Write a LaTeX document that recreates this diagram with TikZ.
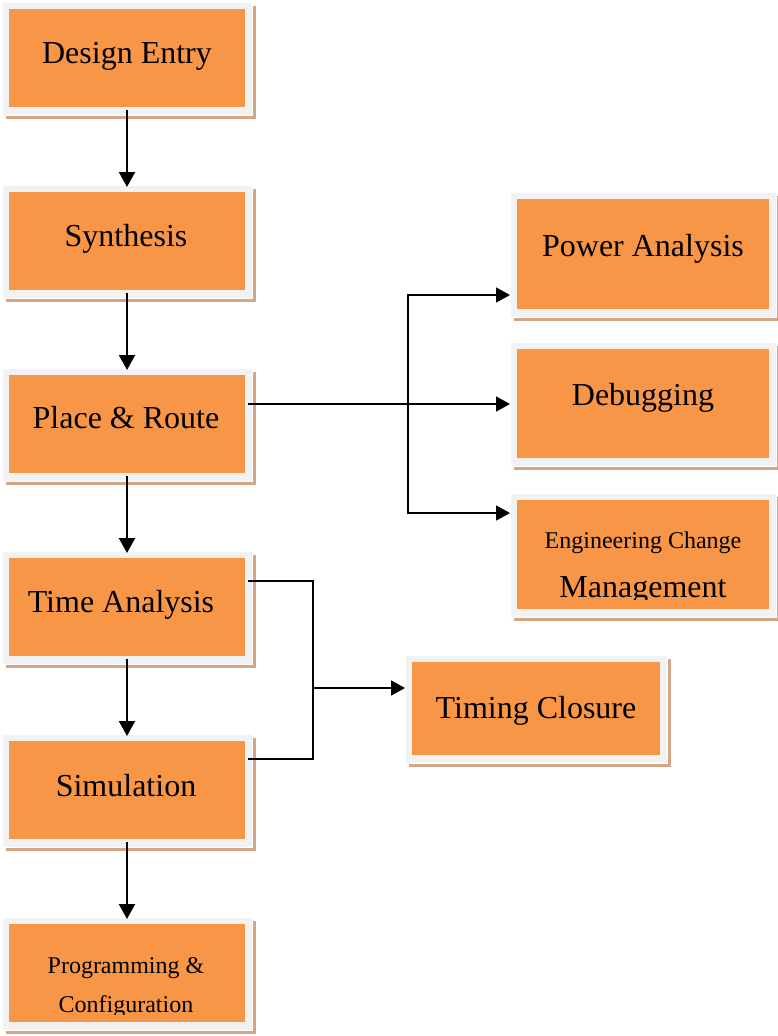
\documentclass[tikz,border=0pt]{standalone}
\usepackage{fontspec}
\setmainfont{Liberation Serif}
\usetikzlibrary{arrows.meta,shadows}
\definecolor{boxorange}{HTML}{F79646}
\definecolor{boxframe}{HTML}{F2F2F2}
\definecolor{boxshadow}{HTML}{D4A686}

\tikzset{
  flowbox/.style={rectangle, inner sep=0pt, outer sep=0pt,
    fill=boxframe, draw=white, line width=0.8pt,
    general shadow={fill=boxshadow, shadow xshift=4pt, shadow yshift=-4pt},
    path picture={\fill[boxorange]
      ([shift={(7pt,8pt)}]path picture bounding box.south west) rectangle
      ([shift={(-7pt,-7pt)}]path picture bounding box.north east);}},
  bigtext/.style={font=\fontsize{32}{38}\selectfont, inner sep=0pt, anchor=base},
  smalltext/.style={font=\fontsize{24}{29}\selectfont, inner sep=0pt, anchor=base},
  link/.style={line width=1.8pt, black},
  arr/.style={link, -{Triangle[length=14pt,width=15pt]}},
  downarr/.style={line width=2.2pt, black, -{Triangle[length=15pt,width=16pt]}, shorten >=-2pt},
}

\begin{document}
\begin{tikzpicture}[x=1pt, y=-1pt]
\useasboundingbox (0,0) rectangle (778,1036);

% main flow column
\node[flowbox, minimum width=250pt, minimum height=113pt] (de)   at (127,58.5)  {};
\node[flowbox, minimum width=250pt, minimum height=113pt] (syn)  at (127,241.5) {};
\node[flowbox, minimum width=250pt, minimum height=113pt] (pr)   at (127,424.5) {};
\node[flowbox, minimum width=250pt, minimum height=113pt] (ta)   at (127,607.5) {};
\node[flowbox, minimum width=250pt, minimum height=113pt] (sim)  at (127,790.5) {};
\node[flowbox, minimum width=250pt, minimum height=113pt] (prog) at (127,973.5) {};

% side branches
\node[flowbox, minimum width=266pt, minimum height=125pt] (pwr) at (643,254.5) {};
\node[flowbox, minimum width=266pt, minimum height=124pt] (dbg) at (643,404)   {};
\node[flowbox, minimum width=266pt, minimum height=124pt] (ecm) at (643,555)   {};
\node[flowbox, minimum width=262pt, minimum height=108pt] (tc)  at (536,709)   {};

% labels
\node[bigtext] (de-t)  at (127,63)  {Design Entry};
\node[bigtext] (syn-t) at (126,246) {Synthesis};
\node[bigtext] (pr-t)  at (126,428) {Place \& Route};
\node[bigtext] (ta-t)  at (121,612) {Time Analysis};
\node[bigtext] (sim-t) at (126,796) {Simulation};
\node[bigtext] (pwr-t) at (643,256) {Power Analysis};
\node[bigtext] (dbg-t) at (643,405) {Debugging};
\node[bigtext] (tc-t)  at (536,718) {Timing Closure};

\begin{scope}
  \clip (518,500) rectangle (768,599);
  \node[smalltext] (ecm-t1) at (643,548) {Engineering Change};
  \node[bigtext]   (ecm-t2) at (643,597) {Management};
\end{scope}
\begin{scope}
  \clip (9,925) rectangle (245,1014);
  \node[smalltext] (prog-t1) at (126,973)  {Programming \&};
  \node[smalltext] (prog-t2) at (126,1012) {Configuration};
\end{scope}

% vertical flow
\draw[downarr] ([yshift=5pt]de.south)  -- (syn.north);
\draw[downarr] ([yshift=5pt]syn.south) -- (pr.north);
\draw[downarr] ([yshift=5pt]pr.south)  -- (ta.north);
\draw[downarr] ([yshift=5pt]ta.south)  -- (sim.north);
\draw[downarr] ([yshift=5pt]sim.south) -- (prog.north);

% place & route fan-out
\coordinate (fan) at (408,404);
\draw[link] ([xshift=-4pt,yshift=20.5pt]pr.east) -- (fan);
\draw[arr]  (fan) -- (dbg.west);
\draw[arr]  (fan) |- ([yshift=-40.5pt]pwr.west);
\draw[arr]  (fan) |- ([yshift=42pt]ecm.west);

% timing closure merge
\coordinate (merge) at (313,688);
\draw[link] ([xshift=-4pt,yshift=26.5pt]ta.east) -| (merge);
\draw[link] ([xshift=-4pt,yshift=31.5pt]sim.east) -| (merge);
\draw[arr]  (merge) -- ([yshift=21pt]tc.west);
\end{tikzpicture}
\end{document}
